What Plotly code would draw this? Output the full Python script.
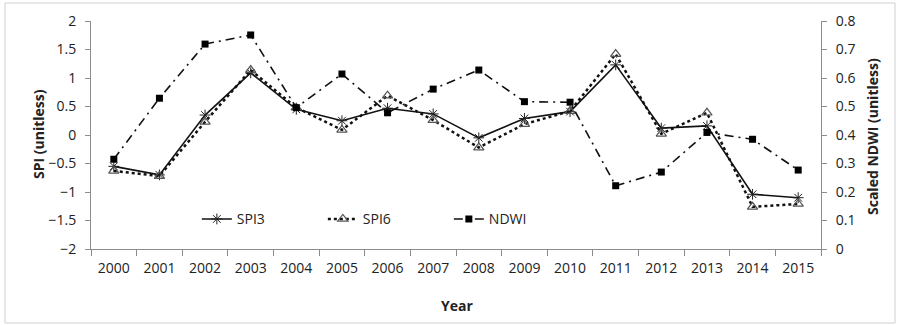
import plotly.graph_objects as go

years = [str(y) for y in range(2000, 2016)]
spi3 = [-0.55, -0.70, 0.35, 1.09, 0.45, 0.25, 0.47, 0.37, -0.05, 0.29, 0.41, 1.23, 0.12, 0.16, -1.04, -1.10]
spi6 = [-0.63, -0.72, 0.23, 1.14, 0.48, 0.09, 0.69, 0.26, -0.22, 0.19, 0.42, 1.42, 0.02, 0.39, -1.26, -1.21]
ndwi = [0.315, 0.529, 0.719, 0.751, 0.496, 0.614, 0.478, 0.561, 0.628, 0.517, 0.515, 0.222, 0.270, 0.409, 0.385, 0.277]

FONT = "Open Sans"
TXT = "#222222"
AX = "#8c8c8c"
FS = 14

fig = go.Figure()
fig.add_trace(go.Scatter(
    x=years, y=spi3, name="SPI3", mode="lines+markers",
    line=dict(color="#111111", width=1.6),
    marker=dict(symbol="asterisk-open", size=9, color="#222222", line=dict(width=1, color="#222222")),
))
fig.add_trace(go.Scatter(
    x=years, y=spi6, name="SPI6", mode="lines+markers",
    line=dict(color="#111111", width=2.5, dash="dot"),
    marker=dict(symbol="triangle-up-open", size=9, color="#555555", line=dict(width=1.2, color="#555555")),
))
fig.add_trace(go.Scatter(
    x=years, y=ndwi, name="NDWI", mode="lines+markers", yaxis="y2",
    line=dict(color="#111111", width=1.6, dash="9px,5px,2px,5px"),
    marker=dict(symbol="square", size=7, color="#000000"),
))

fig.update_layout(
    width=897, height=325,
    margin=dict(l=91, r=76, t=21, b=76),
    paper_bgcolor="white", plot_bgcolor="white",
    font=dict(family=FONT, size=FS, color=TXT),
    showlegend=True,
    legend=dict(
        orientation="h", x=0.145, y=0.13, xanchor="left", yanchor="middle",
        bgcolor="rgba(0,0,0,0)", font=dict(family=FONT, size=FS, color=TXT),
        entrywidth=81, entrywidthmode="pixels", itemwidth=30,
    ),
    xaxis=dict(
        type="category", range=[-0.5, 15.5], showline=True, linecolor=AX, linewidth=1,
        ticks="outside", tickson="boundaries", ticklen=6, tickcolor=AX, ticklabelstandoff=6,
        showgrid=False, zeroline=False, tickfont=dict(family=FONT, size=FS, color=TXT),
    ),
    yaxis=dict(
        range=[-2, 2], dtick=0.5, showline=True, linecolor=AX, linewidth=1,
        ticks="outside", ticklen=5, tickcolor=AX, showgrid=False, zeroline=False,
        ticklabelstandoff=6,
        tickfont=dict(family=FONT, size=FS, color=TXT),
    ),
    yaxis2=dict(
        range=[0, 0.8], dtick=0.1, overlaying="y", side="right", showline=True,
        linecolor=AX, linewidth=1, ticks="outside", ticklen=5, tickcolor=AX,
        showgrid=False, zeroline=False, ticklabelstandoff=6,
        tickfont=dict(family=FONT, size=FS, color=TXT),
    ),
)

fig.add_annotation(text="<b>SPI (unitless)</b>", xref="paper", yref="paper",
                   x=(38 - 91) / 730, y=(249 - 134) / 228, textangle=-90, showarrow=False,
                   xanchor="center", yanchor="middle",
                   font=dict(family=FONT, size=FS, color=TXT))
fig.add_annotation(text="<b>Scaled NDWI (unitless)</b>", xref="paper", yref="paper",
                   x=(872 - 91) / 730, y=(249 - 137) / 228, textangle=-90, showarrow=False,
                   xanchor="center", yanchor="middle",
                   font=dict(family=FONT, size=FS, color=TXT))
fig.add_annotation(text="<b>Year</b>", xref="paper", yref="paper",
                   x=(457 - 91) / 730, y=(249 - 305) / 228, showarrow=False,
                   xanchor="center", yanchor="middle",
                   font=dict(family=FONT, size=FS, color=TXT))

fig.add_shape(type="rect", xref="paper", yref="paper",
              x0=(5 - 91) / 730, x1=(895 - 91) / 730,
              y0=(249 - 323) / 228, y1=(249 - 3) / 228,
              line=dict(color="#d0d0d0", width=1), fillcolor="rgba(0,0,0,0)", layer="below")

fig.write_html("out.html")
